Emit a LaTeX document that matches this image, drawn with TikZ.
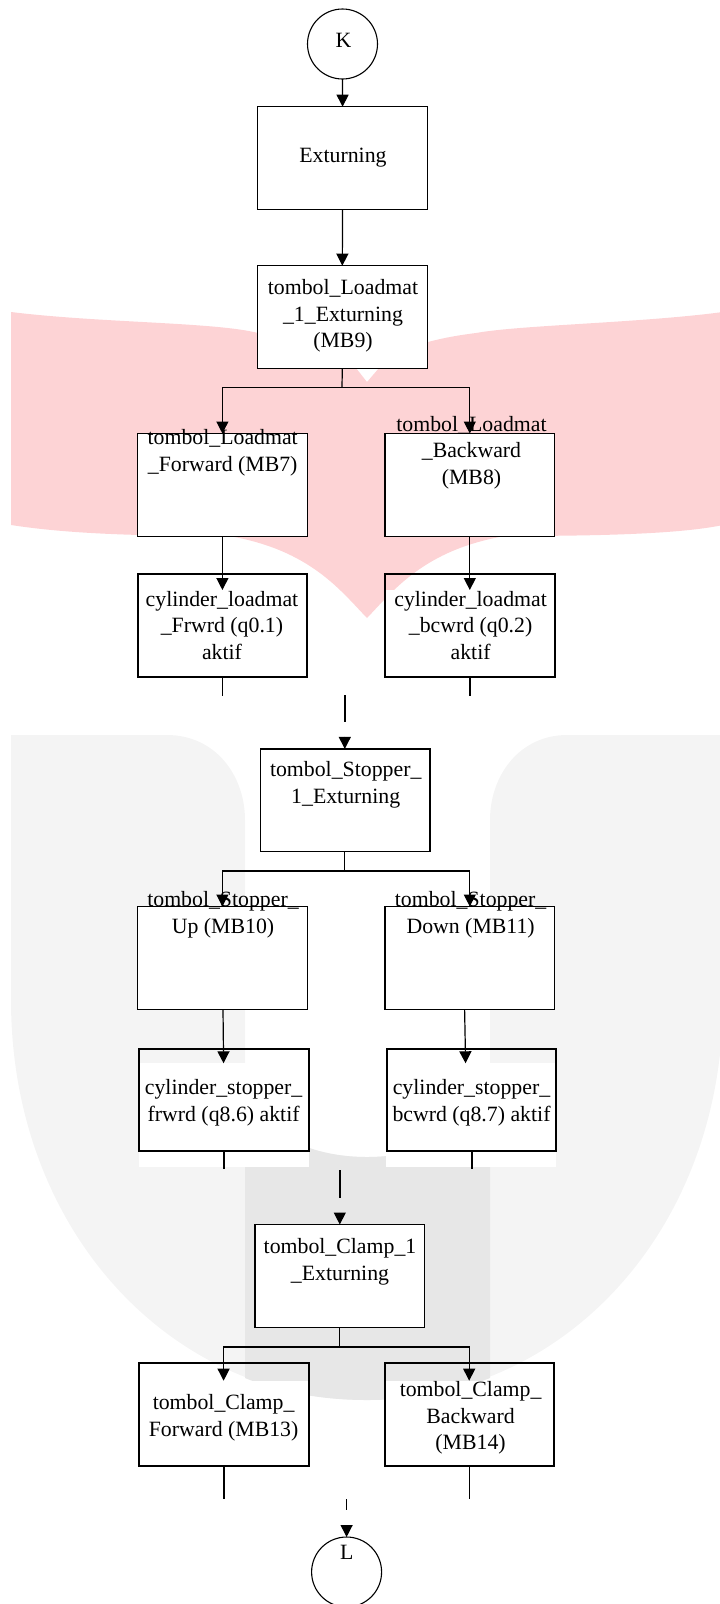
\documentclass[tikz,border=0pt]{standalone}
\usepackage{fontspec}
\setmainfont{Liberation Serif}
\usetikzlibrary{arrows.meta}
\definecolor{wmpink}{HTML}{FDD3D5}
\definecolor{wmlight}{HTML}{F4F4F4}
\definecolor{wmdark}{HTML}{E7E7E7}
\tikzset{
  x=1pt,y=-1pt,
  thinbox/.style={draw=black,fill=white,line width=1.2pt,inner sep=0pt,outer sep=0pt,minimum width=169.6pt,minimum height=102.6pt},
  thickbox/.style={draw=black,line width=2pt,inner sep=0pt,outer sep=0pt,minimum width=169.8pt,minimum height=102.6pt},
  ring/.style={draw=black,circle,line width=1.1pt,inner sep=0pt,outer sep=0pt,minimum size=70pt},
  txt/.style={align=center,inner sep=0pt,font=\fontsize{21.8}{26.6}\selectfont},
  arr/.style={-{Triangle[length=12pt,width=12pt]},line width=1.2pt},
  wire/.style={line width=1.2pt},
  stub/.style={line width=1.5pt},
  patch/.style={fill=white,draw=none}
}
\begin{document}
\begin{tikzpicture}
\useasboundingbox (0,0) rectangle (720,1604);
% watermark
\fill[wmpink] (11,312) .. controls (100,323) and (215,322) .. (258,333)
  .. controls (300,342) and (345,352) .. (356,368) -- (367,382) -- (379,368)
  .. controls (395,352) and (420,340) .. (476,333)
  .. controls (520,325) and (640,323) .. (723,312)
  -- (723,525) .. controls (680,534) and (600,536) .. (505,536)
  .. controls (424,550) and (394,590) .. (367,618)
  .. controls (340,590) and (310,550) .. (229,536)
  .. controls (140,536) and (69,534) .. (11,525) -- cycle;
\fill[wmlight] (11,735) -- (167,735) .. controls (215,735) and (245,775) .. (245,820)
  -- (245,1070) .. controls (245,1125) and (300,1157) .. (367,1157)
  .. controls (434,1157) and (490,1125) .. (490,1070)
  -- (490,820) .. controls (490,775) and (520,735) .. (567,735)
  -- (723,735) -- (723,1000) .. controls (723,1230) and (564,1400) .. (367,1400)
  .. controls (170,1400) and (11,1230) .. (11,1000) -- cycle;
\fill[wmdark] (245,1070) .. controls (245,1125) and (300,1157) .. (367,1157)
  .. controls (434,1157) and (490,1125) .. (490,1070)
  -- (490,1378) .. controls (452,1393) and (410,1400) .. (367,1400)
  .. controls (324,1400) and (282,1393) .. (245,1378) -- cycle;
% white patches
\fill[patch] (138,590) rectangle (307,677);
\fill[patch] (385,590) rectangle (555,677);
\fill[patch] (139,1063) rectangle (309,1167);
\fill[patch] (386,1063) rectangle (556,1167);
\fill[patch] (139,1381) rectangle (309,1466);
\fill[patch] (385,1381) rectangle (554,1466);
% terminators
\node[ring] (k) at (342.5,44) {};
\node[ring] (l) at (346.6,1572) {};
% boxes
\node[thinbox] (ext) at (342.6,158) {};
\node[thinbox] (b1) at (342.3,317) {};
\node[thinbox] (b2) at (222.4,484.8) {};
\node[thinbox] (b3) at (469.8,484.8) {};
\node[thickbox] (b4) at (222.4,625.5) {};
\node[thickbox] (b5) at (470,625.5) {};
\node[thinbox] (b6) at (345.2,800.2) {};
\node[thinbox] (b7) at (222.4,957.8) {};
\node[thinbox] (b8) at (469.8,957.8) {};
\node[thickbox] (b9) at (224,1099.8) {};
\node[thickbox] (b10) at (471.5,1099.8) {};
\node[thinbox] (b11) at (339.8,1275.8) {};
\node[thickbox] (b12) at (224,1414.2) {};
\node[thickbox] (b13) at (469.5,1414.2) {};
% texts
\node[txt] (tk) at (343.5,40.5) {K};
\node[txt] (tl) at (346.8,1552.7) {L};
\node[txt] (text) at (343,157.5) {Exturning};
\node[txt] (t1) at (343,316) {tombol\_Loadmat\\\_1\_Exturning\\(MB9)};
\node[txt] (t2) at (222.7,452.5) {tombol\_Loadmat\\\_Forward (MB7)};
\node[txt] (t3) at (471.5,452.5) {tombol\_Loadmat\\\_Backward\\(MB8)};
\node[txt] (t4) at (222,625.5) {cylinder\_loadmat\\\_Frwrd (q0.1)\\aktif};
\node[txt] (t5) at (470.6,625.5) {cylinder\_loadmat\\\_bcwrd (q0.2)\\aktif};
\node[txt] (t6) at (345.7,785) {tombol\_Stopper\_\\1\_Exturning};
\node[txt] (t7) at (223,914.5) {tombol\_Stopper\_\\Up (MB10)};
\node[txt] (t8) at (470.6,914.5) {tombol\_Stopper\_\\Down (MB11)};
\node[txt] (t9) at (223.6,1103) {cylinder\_stopper\_\\frwrd (q8.6) aktif};
\node[txt] (t10) at (471.5,1103) {cylinder\_stopper\_\\bcwrd (q8.7) aktif};
\node[txt] (t11) at (340,1262) {tombol\_Clamp\_1\\\_Exturning};
\node[txt] (t12) at (223.6,1418) {tombol\_Clamp\_\\Forward (MB13)};
\node[txt] (t13) at (470.6,1418) {tombol\_Clamp\_\\Backward\\(MB14)};
% junctions and free ends
\coordinate (j1) at (342,387.7);
\coordinate (j1l) at (222.4,387.7);
\coordinate (j1r) at (469.8,387.7);
\coordinate (a4s) at (222.4,536.1);
\coordinate (a4e) at (222.4,590);
\coordinate (a5s) at (469.8,536.1);
\coordinate (a5e) at (469.8,590);
\coordinate (s4a) at (222.7,677);
\coordinate (s4b) at (222.7,695.7);
\coordinate (s5a) at (469.8,677);
\coordinate (s5b) at (469.8,695.7);
\coordinate (c1a) at (344.8,695.3);
\coordinate (c1b) at (344.8,721.7);
\coordinate (c1c) at (344.8,736.5);
\coordinate (c1d) at (344.8,748.9);
\coordinate (j2) at (344.8,871);
\coordinate (j2s) at (344.8,851.5);
\coordinate (j2l) at (222.4,871);
\coordinate (j2r) at (469.8,871);
\coordinate (a9s) at (223,1009.1);
\coordinate (a9e) at (223.6,1063.3);
\coordinate (a10s) at (464.6,1009.1);
\coordinate (a10e) at (465.6,1063.3);
\coordinate (s9a) at (224,1151);
\coordinate (s9b) at (224,1169.3);
\coordinate (s10a) at (472,1151);
\coordinate (s10b) at (472,1169.3);
\coordinate (c2a) at (339.8,1170);
\coordinate (c2b) at (339.8,1198.3);
\coordinate (c2c) at (339.8,1212.5);
\coordinate (j3) at (339.8,1347);
\coordinate (j3l) at (223.6,1347);
\coordinate (j3r) at (469.2,1347);
\coordinate (a12e) at (223.6,1380.7);
\coordinate (a13e) at (469.2,1380.7);
\coordinate (s12a) at (224,1465.5);
\coordinate (s12b) at (224,1498.7);
\coordinate (s13a) at (469.7,1465.5);
\coordinate (s13b) at (469.7,1498.7);
\coordinate (c3a) at (346.6,1499.3);
\coordinate (c3b) at (346.6,1509.7);
\coordinate (c3c) at (346.6,1525);
% connectors
\draw[arr] (k.south) -- (ext.north);
\draw[arr] (ext.south) -- (b1.north);
\draw[wire] (b1.south) -- (j1);
\draw[arr] (j1) -- (j1l) -- (b2.north);
\draw[arr] (j1) -- (j1r) -- (b3.north);
\draw[arr] (a4s) -- (a4e);
\draw[arr] (a5s) -- (a5e);
\draw[stub] (s4a) -- (s4b);
\draw[stub] (s5a) -- (s5b);
\draw[stub] (c1a) -- (c1b);
\draw[arr] (c1c) -- (c1d);
\draw[wire] (j2s) -- (j2);
\draw[arr] (j2) -- (j2l) -- (b7.north);
\draw[arr] (j2) -- (j2r) -- (b8.north);
\draw[arr] (a9s) -- (a9e);
\draw[arr] (a10s) -- (a10e);
\draw[stub] (s9a) -- (s9b);
\draw[stub] (s10a) -- (s10b);
\draw[stub] (c2a) -- (c2b);
\draw[arr] (c2c) -- (b11.north);
\draw[wire] (b11.south) -- (j3);
\draw[arr] (j3) -- (j3l) -- (a12e);
\draw[arr] (j3) -- (j3r) -- (a13e);
\draw[stub] (s12a) -- (s12b);
\draw[stub] (s13a) -- (s13b);
\draw[stub] (c3a) -- (c3b);
\draw[arr] (c3c) -- (l.north);
\end{tikzpicture}
\end{document}
